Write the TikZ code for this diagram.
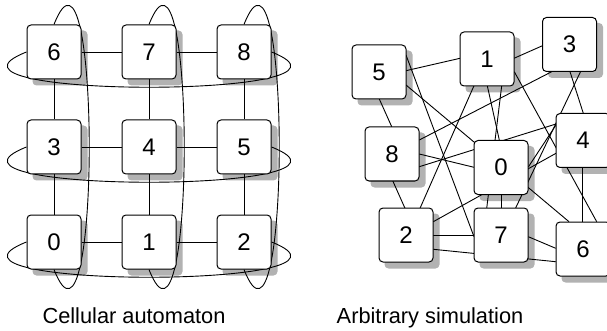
\documentclass[tikz,border=0pt]{standalone}
\usepackage{fontspec}
\setmainfont{Liberation Sans}
\pgfdeclarelayer{canvas}
\pgfdeclarelayer{shade}
\pgfdeclarelayer{wires}
\pgfsetlayers{canvas,shade,wires,main}

\tikzset{
  cell/.style={draw, line width=1pt, fill=white, rounded corners=4pt,
    minimum width=54pt, minimum height=54pt, inner sep=0pt,
    font=\fontsize{24}{24}\selectfont},
  wire/.style={line width=0.9pt},
  caption/.style={anchor=base, inner sep=0pt, font=\fontsize{21.8}{22}\selectfont},
  shadebox/.style={fill=black!30, rounded corners=4pt},
}
% grey drop shadow behind a cell, offset right and down
\newcommand{\cellshade}[1]{%
  \fill[shadebox] ([shift={(6,6)}]#1.south west) rectangle ([shift={(6,6)}]#1.north east);}
% endpoint on a cell, given as an offset from its centre
\newcommand{\at}[3]{([shift={(#2,#3)}]#1.center)}

\begin{document}
\begin{tikzpicture}[x=1pt,y=-1pt]
\useasboundingbox (0,0) rectangle (607,331);
\clip (0,0) rectangle (607,331);
\begin{pgfonlayer}{canvas}
  \fill[white] (0,0) rectangle (607,331);
\end{pgfonlayer}

% ---- cellular automaton: 3x3 torus ----
\node[cell] (L6) at (54,52)  {6};
\node[cell] (L7) at (149,52) {7};
\node[cell] (L8) at (244,52) {8};
\node[cell] (L3) at (54,147)  {3};
\node[cell] (L4) at (149,147) {4};
\node[cell] (L5) at (244,147) {5};
\node[cell] (L0) at (54,242)  {0};
\node[cell] (L1) at (149,242) {1};
\node[cell] (L2) at (244,242) {2};

% ---- arbitrary simulation ----
\node[cell] (R5) at (379,72)     {5};
\node[cell] (R1) at (487,59)     {1};
\node[cell] (R3) at (569.5,44.5) {3};
\node[cell] (R8) at (392,154)    {8};
\node[cell] (R0) at (501,167.5)  {0};
\node[cell] (R4) at (583,140.5)  {4};
\node[cell] (R2) at (406,235)    {2};
\node[cell] (R7) at (501,235)    {7};
\node[cell] (R6) at (583,249)    {6};

\begin{pgfonlayer}{shade}
  \foreach \c in {L0,L1,L2,L3,L4,L5,L6,L7,L8,R0,R1,R2,R3,R4,R5,R6,R7,R8}
    {\cellshade{\c}}
\end{pgfonlayer}

\begin{pgfonlayer}{wires}
  % grid neighbours
  \draw[wire] (L6) -- (L7) -- (L8);
  \draw[wire] (L3) -- (L4) -- (L5);
  \draw[wire] (L0) -- (L1) -- (L2);
  \draw[wire] (L6) -- (L3) -- (L0);
  \draw[wire] (L7) -- (L4) -- (L1);
  \draw[wire] (L8) -- (L5) -- (L2);
  % wrap-around links, rows
  \draw[wire] (L6.west) .. controls +(-120,47) and +(120,47) .. (L8.east);
  \draw[wire] (L3.west) .. controls +(-120,47) and +(120,47) .. (L5.east);
  \draw[wire] (L0.west) .. controls +(-120,47) and +(120,47) .. (L2.east);
  % wrap-around links, columns
  \draw[wire] (L6.north) .. controls +(47,-120) and +(47,120) .. (L0.south);
  \draw[wire] (L7.north) .. controls +(47,-120) and +(47,120) .. (L1.south);
  \draw[wire] (L8.north) .. controls +(47,-120) and +(47,120) .. (L2.south);

  % irregular links
  \draw[wire] \at{R5}{27}{-1.3}   -- \at{R1}{-27}{-0.7};
  \draw[wire] \at{R1}{27}{-0.7}   -- \at{R3}{-27}{1.2};
  \draw[wire] \at{R5}{27}{-17}    -- \at{R7}{-27}{1.7};
  \draw[wire] \at{R5}{27}{13}     -- \at{R6}{-14}{-27.3};
  \draw[wire] \at{R5}{0.3}{27}    -- \at{R8}{-0.3}{-27.3};
  \draw[wire] \at{R1}{-13}{26.7}  -- \at{R2}{14}{-26.7};
  \draw[wire] \at{R1}{0.3}{26.7}  -- \at{R0}{-1.7}{-27.5};
  \draw[wire] \at{R1}{14.7}{26.7} -- \at{R7}{-14.3}{-26.7};
  \draw[wire] \at{R4}{-27}{-16.5} -- \at{R8}{27.3}{12.7};
  \draw[wire] \at{R8}{27.3}{-14}  -- \at{R3}{-17.8}{27.2};
  \draw[wire] \at{R8}{27.3}{0}    -- \at{R0}{-27}{-0.2};
  \draw[wire] \at{R8}{0.7}{26.7}  -- \at{R2}{-1}{-26.7};
  \draw[wire] \at{R2}{27.3}{-13.3} -- \at{R4}{-27}{12.8};
  \draw[wire] \at{R2}{27.3}{0.7}  -- \at{R7}{-27}{0.7};
  \draw[wire] \at{R2}{27.3}{14.3} -- \at{R6}{-27.3}{12.7};
  \draw[wire] \at{R0}{0}{27.5}    -- \at{R7}{0}{-26.7};
  \draw[wire] \at{R7}{27.3}{1.7}  -- \at{R6}{-27.3}{-0.7};
  \draw[wire] \at{R4}{-0.7}{27}   -- \at{R6}{-0.7}{-27.3};
  \draw[wire] \at{R1}{27.3}{12.7} -- \at{R6}{13.7}{-27.3};
  \draw[wire] \at{R3}{0.5}{27.2}  -- \at{R4}{0.3}{-27.2};
  \draw[wire] \at{R3}{11}{27.2}   -- \at{R7}{14.5}{-26.7};
  \draw[wire] \at{R4}{-27}{-15.5} -- \at{R0}{27.3}{-0.5};
\end{pgfonlayer}

\node[caption] (capL) at (134,323) {Cellular automaton};
\node[caption] (capR) at (430,323) {Arbitrary simulation};
\end{tikzpicture}
\end{document}
